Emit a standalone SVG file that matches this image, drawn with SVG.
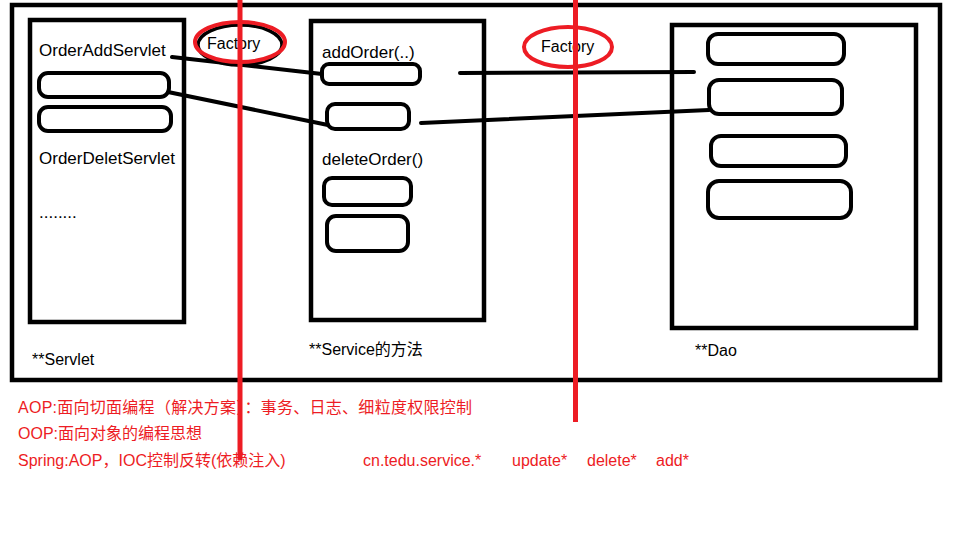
<svg xmlns="http://www.w3.org/2000/svg" width="963" height="557" viewBox="0 0 963 557">
  <style>
    .frame { fill: none; stroke: #000; stroke-width: 4.5; }
    .slot { fill: none; stroke: #000; stroke-width: 4; }
    .wire { stroke: #000; stroke-width: 4; stroke-linecap: round; fill: none; }
    .red { stroke: #ed1c24; fill: none; }
    .lbl { font-family: "Liberation Sans", "Noto Sans CJK SC", sans-serif; font-size: 17px; fill: #000; }
    .cap { font-family: "Liberation Sans", "Noto Sans CJK SC", sans-serif; font-size: 16px; fill: #000; }
    .note { font-family: "Liberation Sans", "Noto Sans CJK SC", sans-serif; font-size: 16px; fill: #ed1c24; }
  </style>
  <rect width="963" height="557" fill="#fff"/>

  <!-- outer container -->
  <rect class="frame" x="12" y="5" width="928" height="375"/>

  <g id="servlet">
    <rect class="frame" x="30" y="20" width="154" height="302"/>
    <text class="lbl" x="39" y="56">OrderAddServlet</text>
    <rect class="slot" x="39" y="73" width="130" height="24" rx="9"/>
    <rect class="slot" x="39" y="107" width="132" height="24" rx="9"/>
    <text class="lbl" x="39" y="164">OrderDeletServlet</text>
    <text class="lbl" x="39" y="218">........</text>
    <text class="cap" x="32" y="365">**Servlet</text>
  </g>

  <g id="service">
    <rect class="frame" x="311" y="21" width="173" height="299"/>
    <text class="lbl" x="322" y="58">addOrder(..)</text>
    <rect class="slot" x="322" y="64" width="98" height="20" rx="7"/>
    <rect class="slot" x="327" y="104" width="82" height="25" rx="8"/>
    <text class="lbl" x="322" y="165">deleteOrder()</text>
    <rect class="slot" x="324" y="178" width="87" height="27" rx="8"/>
    <rect class="slot" x="327" y="216" width="81" height="35" rx="9"/>
    <text class="cap" x="309" y="355">**Service的方法</text>
  </g>

  <g id="dao">
    <rect class="frame" x="672" y="25" width="244" height="303"/>
    <rect class="slot" x="708" y="34" width="136" height="30" rx="10"/>
    <rect class="slot" x="709" y="80" width="133" height="34" rx="10"/>
    <rect class="slot" x="711" y="136" width="135" height="30" rx="10"/>
    <rect class="slot" x="708" y="181" width="143" height="37" rx="11"/>
    <text class="cap" x="695" y="356">**Dao</text>
  </g>

  <g id="connectors">
    <line class="wire" x1="172" y1="57" x2="322" y2="74"/>
    <line class="wire" x1="168" y1="92" x2="328" y2="125"/>
    <line class="wire" x1="460" y1="73" x2="694" y2="72"/>
    <line class="wire" x1="421" y1="123" x2="709" y2="110"/>
  </g>

  <g id="factory-1">
    <ellipse cx="240" cy="45" rx="42" ry="20" fill="none" stroke="#000" stroke-width="3.5"/>
    <ellipse class="red" cx="240" cy="42" rx="45" ry="20" stroke-width="4"/>
    <text class="cap" x="207" y="49">Factory</text>
  </g>

  <g id="factory-2">
    <ellipse class="red" cx="568" cy="47" rx="44" ry="20" stroke-width="4"/>
    <text class="cap" x="541" y="52">Factory</text>
  </g>

  <!-- vertical cut lines -->
  <line class="red" x1="240" y1="0" x2="240" y2="460" stroke-width="5"/>
  <line class="red" x1="575.5" y1="0" x2="575.5" y2="422" stroke-width="5"/>

  <g id="notes">
    <text class="note" x="18" y="413" textLength="454" lengthAdjust="spacing">AOP:面向切面编程（解决方案）：事务、日志、细粒度权限控制</text>
    <text class="note" x="18" y="439">OOP:面向对象的编程思想</text>
    <text class="note" x="18" y="466">Spring:AOP，IOC控制反转(依赖注入)</text>
    <text class="note" x="363" y="466">cn.tedu.service.*</text>
    <text class="note" x="512" y="466">update*</text>
    <text class="note" x="587" y="466">delete*</text>
    <text class="note" x="656" y="466">add*</text>
  </g>
</svg>
